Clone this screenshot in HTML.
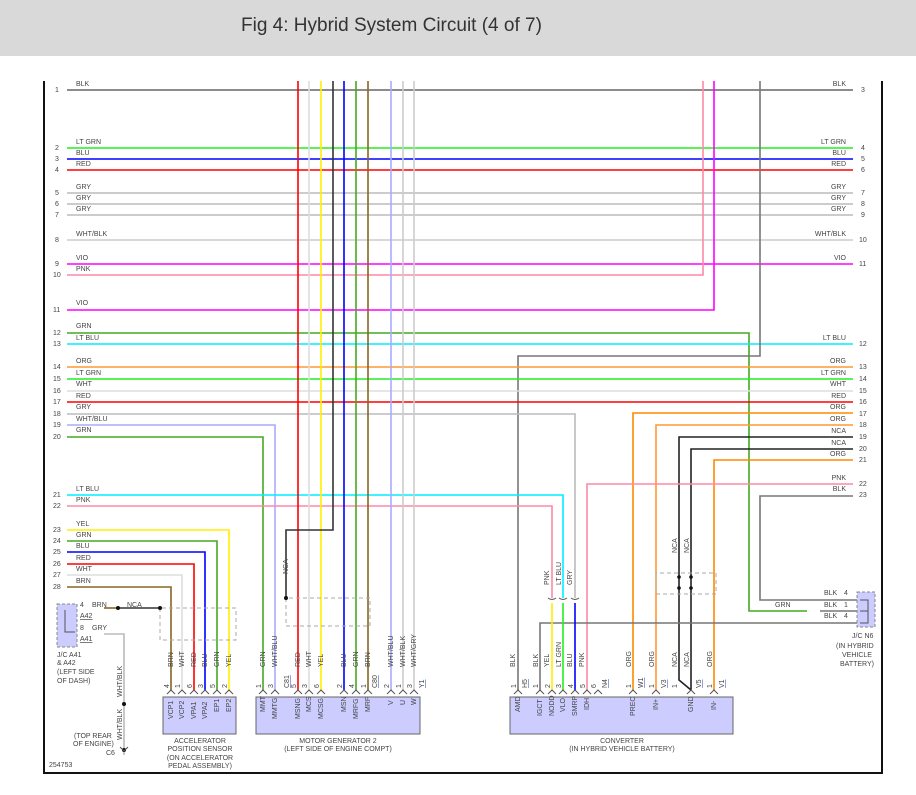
<!DOCTYPE html>
<html><head><meta charset="utf-8"><style>
html,body{margin:0;padding:0;background:#fff;}
.hdr{position:absolute;left:0;top:0;width:916px;height:56px;background:#d9d9d9;}
.hdr span{position:absolute;left:241px;top:15px;font:19px "Liberation Sans",sans-serif;color:#333;}
svg{position:absolute;left:0;top:0;}
text{font-family:"Liberation Sans",sans-serif;font-size:7px;fill:#444;}
</style></head><body>
<div class="hdr"><span>Fig 4: Hybrid System Circuit (4 of 7)</span></div>
<svg width="916" height="795" viewBox="0 0 916 795">
<g fill="none" stroke-width="1.6">
<!-- frame -->
<path d="M44 81V773H882V81" stroke="#111" stroke-width="2"/>
<!-- full-width horizontals -->
<path d="M67 90H853" stroke="#666"/>
<path d="M67 148H853" stroke="#22ee22"/>
<path d="M67 159H853" stroke="#0000ff"/>
<path d="M67 170H853" stroke="#ff0000"/>
<path d="M67 193H853" stroke="#bbb"/>
<path d="M67 204H853" stroke="#bbb"/>
<path d="M67 215H853" stroke="#bbb"/>
<path d="M67 240H853" stroke="#ccc"/>
<path d="M67 264H853" stroke="#ff00ff"/>
<path d="M67 275H703V81" stroke="#ff88aa"/>
<path d="M67 310H714V81" stroke="#ff00ff"/>
<path d="M67 333H749V611H807" stroke="#44aa22"/>
<path d="M67 344H853" stroke="#00eeff"/>
<path d="M760 81V356H518V690" stroke="#777"/>
<path d="M67 367H853" stroke="#ff9933"/>
<path d="M67 379H853" stroke="#22ee22"/>
<path d="M67 391H853" stroke="#ddd"/>
<path d="M67 402H853" stroke="#ff0000"/>
<path d="M67 414H575V598" stroke="#bbb"/>
<path d="M67 425H275V690" stroke="#aaaaff"/>
<path d="M67 437H263V690" stroke="#44aa22"/>
<path d="M67 495H563V598" stroke="#00eeff"/>
<path d="M67 506H552V598" stroke="#ff88aa"/>
<path d="M67 530H229V690" stroke="#ffee00"/>
<path d="M67 541H217V690" stroke="#44aa22"/>
<path d="M67 552H205V690" stroke="#0000ff"/>
<path d="M67 564H194V690" stroke="#ff0000"/>
<path d="M67 575H182V690" stroke="#ddd"/>
<path d="M67 587H171V690" stroke="#886622"/>
<!-- right side -->
<path d="M853 413H633V690" stroke="#ff8800"/>
<path d="M853 425H656V690" stroke="#ff9933"/>
<path d="M853 437H679V680L691 690" stroke="#222"/>
<path d="M853 449H691V690" stroke="#222"/>
<path d="M853 460H714V690" stroke="#ff8800"/>
<path d="M853 484H587V690" stroke="#ff88aa"/>
<path d="M853 496H760V600H857" stroke="#777"/>
<path d="M820 611H857" stroke="#777"/>
<path d="M857 623H540V690" stroke="#777"/>
<!-- below connectors -->
<path d="M552 603V690" stroke="#ffee00"/>
<path d="M563 603V690" stroke="#22ee22"/>
<path d="M575 603V690" stroke="#0000ff"/>
<!-- verticals to MG2 -->
<path d="M298 81V690" stroke="#ff0000"/>
<path d="M309 81V690" stroke="#ddd"/>
<path d="M321 81V690" stroke="#ffee00"/>
<path d="M333 81V530H286V600" stroke="#333"/>
<path d="M344 81V690" stroke="#0000ff"/>
<path d="M356 81V690" stroke="#44aa22"/>
<path d="M368 81V690" stroke="#886622"/>
<path d="M391 81V690" stroke="#aaaaff"/>
<path d="M403 81V690" stroke="#ccc"/>
<path d="M414 81V690" stroke="#ccc"/>
<!-- A41/A42 -->
<path d="M104 608H118" stroke="#886622"/>
<path d="M118 608H160" stroke="#333"/>
<path d="M104 634H124V755" stroke="#bbb"/>
<!-- shields dashed -->
<path d="M160 608V640H236V608Z" stroke="#aaa" stroke-width="1" stroke-dasharray="4 3"/>
<path d="M286 598V626H370V598Z" stroke="#aaa" stroke-width="1" stroke-dasharray="4 3"/>
<path d="M656 573V594H716V573Z" stroke="#aaa" stroke-width="1" stroke-dasharray="4 3"/>
</g>
<!-- dots -->
<g fill="#111"><circle cx="118" cy="608" r="2"/><circle cx="160" cy="608" r="2"/><circle cx="286" cy="598" r="2"/><circle cx="124" cy="704" r="2"/><circle cx="124" cy="750" r="2"/><circle cx="679" cy="577" r="1.8"/><circle cx="691" cy="577" r="1.8"/><circle cx="679" cy="588" r="1.8"/><circle cx="691" cy="588" r="1.8"/><circle cx="868" cy="611" r="1.8"/></g>
<!-- connector boxes -->
<rect x="57" y="604" width="20" height="43" fill="#ccccff" stroke="#888" stroke-dasharray="3 2"/>
<path d="M65 610V632H75" stroke="#555" fill="none"/>
<rect x="857" y="592" width="18" height="35" fill="#ccccff" stroke="#888" stroke-dasharray="3 2"/>
<path d="M860 600H868V623H860M860 611H868" stroke="#555" fill="none"/>
<rect x="163" y="697" width="73" height="37" fill="#ccccff" stroke="#666"/>
<rect x="256" y="697" width="164" height="37" fill="#ccccff" stroke="#666"/>
<rect x="510" y="697" width="223" height="37" fill="#ccccff" stroke="#666"/>
<!-- pin glyphs -->
<g fill="none" stroke="#555" stroke-width="1">
<path d="M167 694l4-4 4 4M178 694l4-4 4 4M190 694l4-4 4 4M201 694l4-4 4 4M213 694l4-4 4 4M225 694l4-4 4 4"/>
<path d="M259 694l4-4 4 4M271 694l4-4 4 4M294 694l4-4 4 4M305 694l4-4 4 4M317 694l4-4 4 4M340 694l4-4 4 4M352 694l4-4 4 4M364 694l4-4 4 4M387 694l4-4 4 4M399 694l4-4 4 4M410 694l4-4 4 4"/>
<path d="M514 694l4-4 4 4M536 694l4-4 4 4M548 694l4-4 4 4M559 694l4-4 4 4M571 694l4-4 4 4M583 694l4-4 4 4M594 694l4-4 4 4M629 694l4-4 4 4M652 694l4-4 4 4M687 694l4-4 4 4M710 694l4-4 4 4"/>
<path d="M548 598q4 3 8 0M559 598q4 3 8 0M571 598q4 3 8 0"/>
<path d="M120 747l4 4 4-4"/>
</g>
<!-- left labels -->
<g>
<text x="55" y="92">1</text><text x="76" y="86">BLK</text>
<text x="55" y="150">2</text><text x="76" y="144">LT GRN</text>
<text x="55" y="161">3</text><text x="76" y="155">BLU</text>
<text x="55" y="172">4</text><text x="76" y="166">RED</text>
<text x="55" y="195">5</text><text x="76" y="189">GRY</text>
<text x="55" y="206">6</text><text x="76" y="200">GRY</text>
<text x="55" y="217">7</text><text x="76" y="211">GRY</text>
<text x="55" y="242">8</text><text x="76" y="236">WHT/BLK</text>
<text x="55" y="266">9</text><text x="76" y="260">VIO</text>
<text x="53" y="277">10</text><text x="76" y="271">PNK</text>
<text x="53" y="312">11</text><text x="76" y="305">VIO</text>
<text x="53" y="335">12</text><text x="76" y="328">GRN</text>
<text x="53" y="346">13</text><text x="76" y="340">LT BLU</text>
<text x="53" y="369">14</text><text x="76" y="363">ORG</text>
<text x="53" y="381">15</text><text x="76" y="375">LT GRN</text>
<text x="53" y="393">16</text><text x="76" y="386">WHT</text>
<text x="53" y="404">17</text><text x="76" y="398">RED</text>
<text x="53" y="416">18</text><text x="76" y="409">GRY</text>
<text x="53" y="427">19</text><text x="76" y="421">WHT/BLU</text>
<text x="53" y="439">20</text><text x="76" y="432">GRN</text>
<text x="53" y="497">21</text><text x="76" y="491">LT BLU</text>
<text x="53" y="508">22</text><text x="76" y="502">PNK</text>
<text x="53" y="532">23</text><text x="76" y="526">YEL</text>
<text x="53" y="543">24</text><text x="76" y="537">GRN</text>
<text x="53" y="554">25</text><text x="76" y="548">BLU</text>
<text x="53" y="566">26</text><text x="76" y="560">RED</text>
<text x="53" y="577">27</text><text x="76" y="571">WHT</text>
<text x="53" y="589">28</text><text x="76" y="583">BRN</text>
</g>
<!-- right labels -->
<g text-anchor="end">
<text x="846" y="86">BLK</text><text x="846" y="144">LT GRN</text><text x="846" y="155">BLU</text><text x="846" y="166">RED</text>
<text x="846" y="189">GRY</text><text x="846" y="200">GRY</text><text x="846" y="211">GRY</text><text x="846" y="236">WHT/BLK</text>
<text x="846" y="260">VIO</text><text x="846" y="340">LT BLU</text><text x="846" y="363">ORG</text><text x="846" y="375">LT GRN</text>
<text x="846" y="386">WHT</text><text x="846" y="398">RED</text><text x="846" y="409">ORG</text><text x="846" y="421">ORG</text>
<text x="846" y="433">NCA</text><text x="846" y="445">NCA</text><text x="846" y="456">ORG</text><text x="846" y="480">PNK</text><text x="846" y="491">BLK</text>
</g>
<g>
<text x="861" y="92">3</text><text x="861" y="150">4</text><text x="861" y="161">5</text><text x="861" y="172">6</text>
<text x="861" y="195">7</text><text x="861" y="206">8</text><text x="861" y="217">9</text><text x="859" y="242">10</text>
<text x="859" y="266">11</text><text x="859" y="346">12</text><text x="859" y="369">13</text><text x="859" y="381">14</text>
<text x="859" y="393">15</text><text x="859" y="404">16</text><text x="859" y="416">17</text><text x="859" y="427">18</text>
<text x="859" y="439">19</text><text x="859" y="451">20</text><text x="859" y="462">21</text><text x="859" y="486">22</text><text x="859" y="497">23</text>
<text x="824" y="595">BLK</text><text x="844" y="595">4</text>
<text x="824" y="607">BLK</text><text x="844" y="607">1</text>
<text x="824" y="618">BLK</text><text x="844" y="618">4</text>
<text x="775" y="607">GRN</text>
<text x="852" y="638" fill="#6677cc">J/C N6</text>
<text x="836" y="648">(IN HYBRID</text><text x="842" y="657">VEHICLE</text><text x="840" y="666">BATTERY)</text>
<!-- A41 area -->
<text x="80" y="607">4</text><text x="92" y="607">BRN</text><text x="127" y="607">NCA</text>
<text x="80" y="630">8</text><text x="92" y="630">GRY</text>
<text x="80" y="618" fill="#6677cc" text-decoration="underline">A42</text>
<text x="80" y="641" fill="#6677cc" text-decoration="underline">A41</text>
<text x="57" y="657" fill="#6677cc">J/C A41</text><text x="57" y="665" fill="#6677cc">&amp; A42</text>
<text x="57" y="674">(LEFT SIDE</text><text x="57" y="683">OF DASH)</text>
<text x="74" y="738">(TOP REAR</text><text x="73" y="746">OF ENGINE)</text>
<text x="106" y="755" fill="#6677cc">C6</text>
<text x="49" y="767">254753</text>
<text x="200" y="743" text-anchor="middle" fill="#6677cc">ACCELERATOR</text>
<text x="200" y="751" text-anchor="middle" fill="#6677cc">POSITION SENSOR</text>
<text x="200" y="760" text-anchor="middle">(ON ACCELERATOR</text>
<text x="200" y="768" text-anchor="middle">PEDAL ASSEMBLY)</text>
<text x="338" y="743" text-anchor="middle" fill="#6677cc">MOTOR GENERATOR 2</text>
<text x="338" y="751" text-anchor="middle">(LEFT SIDE OF ENGINE COMPT)</text>
<text x="622" y="743" text-anchor="middle">CONVERTER</text>
<text x="622" y="751" text-anchor="middle">(IN HYBRID VEHICLE BATTERY)</text>
</g>
<!-- rotated wire labels -->
<g>
<text transform="translate(173,667) rotate(-90)">BRN</text>
<text transform="translate(184,667) rotate(-90)">WHT</text>
<text transform="translate(196,667) rotate(-90)">RED</text>
<text transform="translate(207,667) rotate(-90)">BLU</text>
<text transform="translate(219,667) rotate(-90)">GRN</text>
<text transform="translate(231,667) rotate(-90)">YEL</text>
<text transform="translate(265,667) rotate(-90)">GRN</text>
<text transform="translate(277,667) rotate(-90)">WHT/BLU</text>
<text transform="translate(300,667) rotate(-90)">RED</text>
<text transform="translate(311,667) rotate(-90)">WHT</text>
<text transform="translate(323,667) rotate(-90)">YEL</text>
<text transform="translate(346,667) rotate(-90)">BLU</text>
<text transform="translate(358,667) rotate(-90)">GRN</text>
<text transform="translate(370,667) rotate(-90)">BRN</text>
<text transform="translate(393,667) rotate(-90)">WHT/BLU</text>
<text transform="translate(405,667) rotate(-90)">WHT/BLK</text>
<text transform="translate(416,667) rotate(-90)">WHT/GRY</text>
<text transform="translate(288,574) rotate(-90)">NCA</text>
<text transform="translate(122,697) rotate(-90)">WHT/BLK</text>
<text transform="translate(122,740) rotate(-90)">WHT/BLK</text>
<text transform="translate(515,667) rotate(-90)">BLK</text>
<text transform="translate(538,667) rotate(-90)">BLK</text>
<text transform="translate(549,667) rotate(-90)">YEL</text>
<text transform="translate(561,667) rotate(-90)">LT GRN</text>
<text transform="translate(572,667) rotate(-90)">BLU</text>
<text transform="translate(584,667) rotate(-90)">PNK</text>
<text transform="translate(631,667) rotate(-90)">ORG</text>
<text transform="translate(654,667) rotate(-90)">ORG</text>
<text transform="translate(677,667) rotate(-90)">NCA</text>
<text transform="translate(689,667) rotate(-90)">NCA</text>
<text transform="translate(712,667) rotate(-90)">ORG</text>
<text transform="translate(549,585) rotate(-90)">PNK</text>
<text transform="translate(561,585) rotate(-90)">LT BLU</text>
<text transform="translate(572,585) rotate(-90)">GRY</text>
<text transform="translate(677,553) rotate(-90)">NCA</text>
<text transform="translate(689,553) rotate(-90)">NCA</text>
<!-- pin names -->
<text transform="translate(173,719) rotate(-90)">VCP1</text>
<text transform="translate(184,719) rotate(-90)">VCP2</text>
<text transform="translate(196,719) rotate(-90)">VPA1</text>
<text transform="translate(207,719) rotate(-90)">VPA2</text>
<text transform="translate(219,712) rotate(-90)">EP1</text>
<text transform="translate(231,712) rotate(-90)">EP2</text>
<text transform="translate(265,712) rotate(-90)">MMT</text>
<text transform="translate(277,719) rotate(-90)">MMTG</text>
<text transform="translate(300,719) rotate(-90)">MSNG</text>
<text transform="translate(311,712) rotate(-90)">MCS</text>
<text transform="translate(323,719) rotate(-90)">MCSG</text>
<text transform="translate(346,712) rotate(-90)">MSN</text>
<text transform="translate(358,719) rotate(-90)">MRFG</text>
<text transform="translate(370,712) rotate(-90)">MRF</text>
<text transform="translate(393,705) rotate(-90)">V</text>
<text transform="translate(405,705) rotate(-90)">U</text>
<text transform="translate(416,705) rotate(-90)">W</text>
<text transform="translate(520,712) rotate(-90)">AMD</text>
<text transform="translate(542,716) rotate(-90)">IGCT</text>
<text transform="translate(554,716) rotate(-90)">NODD</text>
<text transform="translate(565,712) rotate(-90)">VLO</text>
<text transform="translate(577,716) rotate(-90)">SMRP</text>
<text transform="translate(589,710) rotate(-90)">IDH</text>
<text transform="translate(635,716) rotate(-90)">PREC</text>
<text transform="translate(658,710) rotate(-90)">IN+</text>
<text transform="translate(693,712) rotate(-90)">GND</text>
<text transform="translate(716,710) rotate(-90)">IN-</text>
<!-- pin numbers -->
<text transform="translate(169,688) rotate(-90)">4</text><text transform="translate(180,688) rotate(-90)">1</text>
<text transform="translate(192,688) rotate(-90)">6</text><text transform="translate(203,688) rotate(-90)">3</text>
<text transform="translate(215,688) rotate(-90)">5</text><text transform="translate(227,688) rotate(-90)">2</text>
<text transform="translate(261,688) rotate(-90)">1</text><text transform="translate(273,688) rotate(-90)">3</text>
<text transform="translate(296,688) rotate(-90)">5</text><text transform="translate(307,688) rotate(-90)">3</text>
<text transform="translate(319,688) rotate(-90)">6</text><text transform="translate(342,688) rotate(-90)">2</text>
<text transform="translate(354,688) rotate(-90)">4</text><text transform="translate(366,688) rotate(-90)">1</text>
<text transform="translate(389,688) rotate(-90)">2</text><text transform="translate(401,688) rotate(-90)">1</text>
<text transform="translate(412,688) rotate(-90)">3</text>
<text transform="translate(516,688) rotate(-90)">1</text><text transform="translate(538,688) rotate(-90)">1</text>
<text transform="translate(550,688) rotate(-90)">2</text><text transform="translate(561,688) rotate(-90)">3</text>
<text transform="translate(573,688) rotate(-90)">4</text><text transform="translate(585,688) rotate(-90)">5</text>
<text transform="translate(596,688) rotate(-90)">6</text><text transform="translate(631,688) rotate(-90)">1</text>
<text transform="translate(654,688) rotate(-90)">1</text><text transform="translate(677,688) rotate(-90)">1</text>
<text transform="translate(712,688) rotate(-90)">1</text>
<g fill="#6677cc" text-decoration="underline">
<text transform="translate(289,688) rotate(-90)">C81</text>
<text transform="translate(377,688) rotate(-90)">C80</text>
<text transform="translate(424,688) rotate(-90)">Y1</text>
<text transform="translate(527,688) rotate(-90)">H5</text>
<text transform="translate(607,688) rotate(-90)">N4</text>
<text transform="translate(643,688) rotate(-90)">W1</text>
<text transform="translate(666,688) rotate(-90)">V3</text>
<text transform="translate(701,688) rotate(-90)">V5</text>
<text transform="translate(724,688) rotate(-90)">V1</text>
</g>
</g>
</svg>
</body></html>
